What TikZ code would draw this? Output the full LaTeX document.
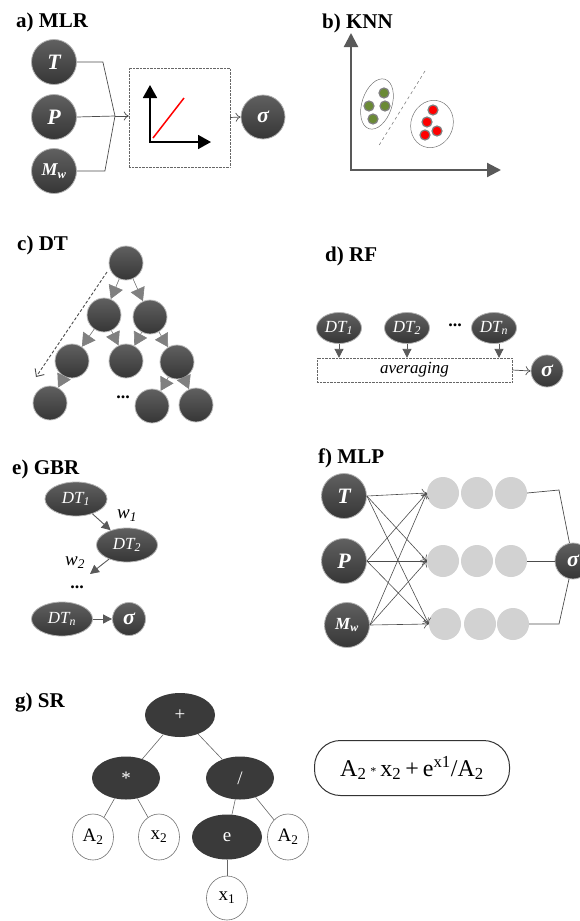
\documentclass[tikz,border=0pt]{standalone}
\usepackage{fontspec}
\setmainfont{Liberation Serif}
\usetikzlibrary{arrows.meta,shapes.geometric}
\definecolor{dkA}{HTML}{606060}
\definecolor{dkB}{HTML}{363636}
\definecolor{axgray}{HTML}{595959}
\definecolor{lgray}{HTML}{D2D2D2}
\definecolor{knngreen}{HTML}{6A8A35}
\definecolor{srdark}{HTML}{3A3A3A}
\begin{document}
\begin{tikzpicture}[x=1pt,y=-1pt,
  title/.style={anchor=base west, inner sep=0, font=\fontsize{21}{24}\selectfont\bfseries},
  dkc/.style={circle, inner sep=0, draw=gray!60, line width=0.8pt, top color=dkA, bottom color=dkB, text=white, font=\fontsize{22}{24}\selectfont\bfseries\itshape},
  dke/.style={ellipse, inner sep=0, draw=gray!60, line width=0.8pt, top color=dkA, bottom color=dkB, text=white, font=\fontsize{17}{18}\selectfont\itshape},
  dtc/.style={circle, inner sep=0, minimum size=34, draw=gray!50, line width=0.8pt, top color=dkA, bottom color=dkB},
  conn/.style={draw=black!70, line width=0.7pt},
  opentip/.style={-{To[length=5pt,width=9pt]}},
  dtarr/.style={draw=black!50, fill=black!65, line width=0.6pt, -{Triangle[length=13pt,width=15pt]}},
  garr/.style={draw=black!65, line width=0.9pt, -{Triangle[length=9pt,width=9pt]}},
  kdot/.style={circle, inner sep=0, minimum size=10, draw=gray, line width=1.2pt},
  hid/.style={circle, inner sep=0, minimum size=32, fill=lgray},
  srd/.style={ellipse, inner sep=0, fill=srdark, text=white, font=\fontsize{19}{20}\selectfont},
  srw/.style={ellipse, inner sep=0, draw=black!55, line width=0.6pt, fill=white, minimum width=41, minimum height=46, font=\fontsize{19}{20}\selectfont},
  srl/.style={draw=black!60, line width=0.6pt},
  dots/.style={font=\fontsize{18}{18}\selectfont\bfseries}
]
\useasboundingbox (0,0) rectangle (579,921);

% ---------- a) MLR ----------
\node[title] (ta) at (16,27) {a) MLR};
\node[dkc, minimum size=45] (aT) at (54,62) {T};
\node[dkc, minimum size=45] (aP) at (54,117) {P};
\node[dkc, minimum size=45, font=\fontsize{18}{18}\selectfont\bfseries\itshape] (aM) at (54,171) {M\textsubscript{w}};
\node[draw=black!60, densely dotted, minimum width=101, minimum height=99, inner sep=0] (abox) at (179.5,117.5) {};
\node[dkc, minimum size=44] (aS) at (263,117) {σ};
\coordinate (aj) at (115,116);
\draw[conn] (aT.east) -- ++(26,0) -- (aj);
\draw[conn] (aP.east) -- (aj);
\draw[conn] (aM.east) -- ++(28,0) -- (aj);
\draw[conn, opentip] (aj) -- (aj -| abox.west);
\draw[conn, opentip] (abox.east) -- (aS.west);
\coordinate (ao) at (150,142);
\coordinate (ay) at (150,85);
\coordinate (ax) at (211,142);
\draw[line width=1.8pt, {Triangle[length=13pt,width=14pt]}-{Triangle[length=13pt,width=14pt]}] (ay) -- (ao) -- (ax);
\draw[red, line width=1.5pt] (153,138) -- (184,98);

% ---------- b) KNN ----------
\node[title] (tb) at (322,28) {b) KNN};
\coordinate (ko) at (351,170);
\coordinate (ky) at (351,33);
\coordinate (kx) at (501,170);
\draw[axgray, line width=2.2pt, {Triangle[length=14pt,width=14pt]}-{Triangle[length=14pt,width=14pt]}] (ky) -- (ko) -- (kx);
\draw[black!55, line width=0.5pt] (377,104) ellipse [x radius=15, y radius=26, rotate=-18];
\draw[black!55, line width=0.5pt] (432,124) ellipse [x radius=21, y radius=24, rotate=-20];
\draw[black!50, dashed, line width=0.6pt] (425,71) -- (378,147);
\node[kdot, fill=knngreen] (g1) at (384,93) {};
\node[kdot, fill=knngreen] (g2) at (369,106) {};
\node[kdot, fill=knngreen] (g3) at (385,106) {};
\node[kdot, fill=knngreen] (g4) at (373,119) {};
\node[kdot, fill=red] (r1d) at (433,110) {};
\node[kdot, fill=red] (r2d) at (427,122) {};
\node[kdot, fill=red] (r3d) at (437,131) {};
\node[kdot, fill=red] (r4d) at (425,135) {};

% ---------- c) DT ----------
\node[title] (tc) at (17,250) {c) DT};
\node[dtc] (c0) at (126,263) {};
\node[dtc] (c1) at (104,315) {};
\node[dtc] (c2) at (150,317) {};
\node[dtc] (c3) at (72,361) {};
\node[dtc] (c4) at (126,361) {};
\node[dtc] (c5) at (177,362) {};
\node[dtc] (c6) at (50,403) {};
\node[dtc] (c7) at (152,406) {};
\node[dtc] (c8) at (196,405) {};
\node[dots] (cdots) at (123,397) {...};
\draw[dtarr] (c0) -- (c1);
\draw[dtarr] (c0) -- (c2);
\draw[dtarr] (c1) -- (c3);
\draw[dtarr] (c1) -- (c4);
\draw[dtarr] (c2) -- (c4);
\draw[dtarr] (c2) -- (c5);
\draw[dtarr] (c3) -- (c6);
\draw[dtarr] (c5) -- (c7);
\draw[dtarr] (c5) -- (c8);
\coordinate (cd0) at (107,272);
\coordinate (cd1) at (36,377);
\draw[black!70, densely dashed, line width=0.9pt, -{Straight Barb[length=6pt,width=11pt]}] (cd0) -- (cd1);

% ---------- d) RF ----------
\node[title] (td) at (325,261) {d) RF};
\node[dke, minimum width=45, minimum height=31] (d1) at (339,328) {DT\textsubscript{1}};
\node[dke, minimum width=45, minimum height=31] (d2) at (407,328) {DT\textsubscript{2}};
\node[dke, minimum width=45, minimum height=31] (dn) at (494,328) {DT\textsubscript{n}};
\node[dots] (ddots) at (455,325) {...};
\node[draw=black!60, densely dotted, minimum width=195, minimum height=24, inner sep=0, font=\fontsize{17}{18}\selectfont\itshape] (davg) at (414.5,370) {averaging};
\node[dkc, minimum size=32] (dS) at (547,371) {σ};
\draw[garr] (d1) -- (d1 |- davg.north);
\draw[garr] (d2) -- (d2 |- davg.north);
\draw[garr] (dn.south) ++(5,0) coordinate (dns) -- (dns |- davg.north);
\draw[conn, opentip] (davg.east) -- (dS.west);

% ---------- e) GBR ----------
\node[title] (te) at (12,474) {e) GBR};
\node[dke, minimum width=62, minimum height=34] (e1) at (76,499) {DT\textsubscript{1}};
\node[dke, minimum width=61, minimum height=34] (e2) at (127,545) {DT\textsubscript{2}};
\node[dke, minimum width=61, minimum height=34] (en) at (62,619) {DT\textsubscript{n}};
\node[dkc, minimum size=33] (eS) at (129,619) {σ};
\coordinate (ew) at (90,574);
\draw[garr] (e1) -- (e2);
\draw[garr] (e2) -- (ew);
\draw[garr] (en) -- (eS);
\node[font=\fontsize{19}{20}\selectfont\itshape] (ew1) at (127,516) {w\textsubscript{1}};
\node[font=\fontsize{19}{20}\selectfont\itshape] (ew2) at (75,563) {w\textsubscript{2}};
\node[dots] (edots) at (77,587) {...};

% ---------- f) MLP ----------
\node[title] (tf) at (318,463) {f) MLP};
\node[dkc, minimum size=45] (fT) at (344,496) {T};
\node[dkc, minimum size=45] (fP) at (344,561) {P};
\node[dkc, minimum size=45, font=\fontsize{17}{18}\selectfont\bfseries\itshape] (fM) at (347,625) {M\textsubscript{w}};
\node[hid] (h11) at (443,493) {};
\node[hid] (h12) at (477,493) {};
\node[hid] (h13) at (511,493) {};
\node[hid] (h21) at (443,561) {};
\node[hid] (h22) at (477,561) {};
\node[hid] (h23) at (511,561) {};
\node[hid] (h31) at (445,624) {};
\node[hid] (h32) at (480,624) {};
\node[hid] (h33) at (513,624) {};
\node[dkc, minimum size=36] (fS) at (573,561) {σ};
\foreach \s in {fT,fP,fM}
  \foreach \t in {h11,h21,h31}
    \draw[conn, line width=0.6pt, opentip] (\s.east) -- (\t.west);
\coordinate (fo1) at (559,490);
\coordinate (fo3) at (559,624);
\draw[conn] (h13.east) -- (fo1) -- (fS);
\draw[conn] (h23.east) -- (fS.west);
\draw[conn] (h33.east) -- (fo3) -- (fS);

% ---------- g) SR ----------
\node[title] (tg) at (15,707) {g) SR};
\node[srd, minimum width=70, minimum height=44] (gp) at (180,715) {+};
\node[srd, minimum width=68, minimum height=43] (gm) at (126,778) {*};
\node[srd, minimum width=68, minimum height=43] (gd) at (240,778) {/};
\node[srw] (ga) at (93,837) {A\textsubscript{2}};
\node[srw] (gx2) at (159,837) {x\textsubscript{2}};
\node[srd, minimum width=70, minimum height=45] (ge) at (227,837) {e};
\node[srw] (ga2) at (288,837) {A\textsubscript{2}};
\node[srw, minimum height=44] (gx1) at (227,898) {x\textsubscript{1}};
\draw[srl] (gp) -- (gm);
\draw[srl] (gp) -- (gd);
\draw[srl] (gm) -- (ga);
\draw[srl] (gm) -- (gx2);
\draw[srl] (gd) -- (ge);
\draw[srl] (gd) -- (ga2);
\draw[srl] (ge) -- (gx1);
\node[draw=black!80, line width=1pt, rounded corners=26, minimum width=195, minimum height=55, inner sep=0, font=\fontsize{24}{26}\selectfont] (gf) at (412,768) {A\textsubscript{2}\,{\fontsize{12}{12}\selectfont\raisebox{1pt}{*}}\,x\textsubscript{2}\,+\,e\textsuperscript{x1}/A\textsubscript{2}};
\end{tikzpicture}
\end{document}
